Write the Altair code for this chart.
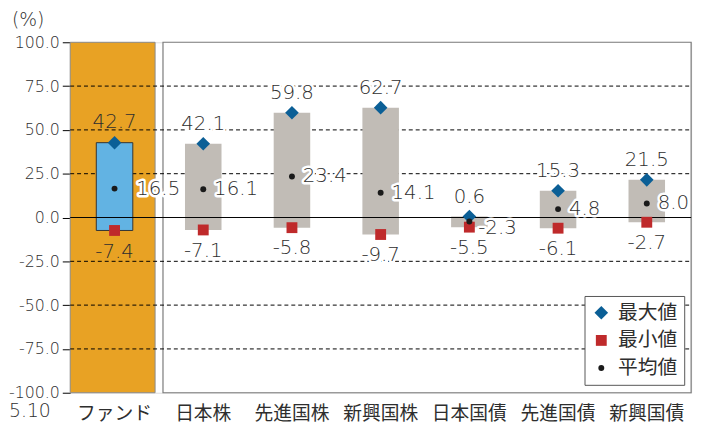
import altair as alt
import pandas as pd

cats = ["ファンド", "日本株", "先進国株", "新興国株", "日本国債", "先進国債", "新興国債"]
max_vals = [42.7, 42.1, 59.8, 62.7, 0.6, 15.3, 21.5]
min_vals = [-7.4, -7.1, -5.8, -9.7, -5.5, -6.1, -2.7]
avg_vals = [16.5, 16.1, 23.4, 14.1, -2.3, 4.8, 8.0]
legend_names = ["最大値", "最小値", "平均値"]
y_ticks = [100, 75, 50, 25, 0, -25, -50, -75, -100]
grid_vals = [75, 50, 25, -25, -50, -75]

CJK = "Noto Sans CJK JP"
NUM = "DejaVu Sans"
TXT = "#2e2e2e"
W, H = 629, 355

df = pd.DataFrame({"cat": cats, "max": max_vals, "min": min_vals, "avg": avg_vals})
base = alt.Chart(df)

yscale = alt.Scale(domain=[-100, 100], nice=False, zero=False)
xscale = alt.Scale(paddingInner=0, paddingOuter=0)
x_axis = alt.Axis(title=None, labelAngle=0, ticks=False, domain=False,
                  labelFont=CJK, labelFontSize=19, labelColor=TXT, labelPadding=12)
y_axis = alt.Axis(title=None, values=y_ticks, format=".1f", ticks=True, tickSize=8,
                  tickColor="black", domain=False, grid=False, labelFont=NUM,
                  labelFontWeight=200, labelExpr="replace(datum.label, '\u2212', '-')",
                  labelFontSize=16, labelColor=TXT, labelPadding=3)

X = alt.X("cat:N", sort=cats, scale=xscale, axis=x_axis)


def Y(field):
    return alt.Y(field, scale=yscale, axis=y_axis)


one = alt.Chart(pd.DataFrame({"a": [0]}))

fund_panel = one.mark_rect(color="#e8a224", stroke="#8a8a8a", strokeWidth=1).encode(
    x=alt.value(0), x2=alt.value(86), y=alt.value(0), y2=alt.value(H))
main_panel = one.mark_rect(color="white", stroke="#7a7a7a", strokeWidth=1.2).encode(
    x=alt.value(94), x2=alt.value(W), y=alt.value(0), y2=alt.value(H))

grid = alt.Chart(pd.DataFrame({"g": grid_vals})).mark_rule(
    color="black", strokeDash=[4, 3], strokeWidth=1).encode(
    y=Y("g:Q"), x=alt.value(0), x2=alt.value(W))

zero_line = alt.Chart(pd.DataFrame({"z": [0]})).mark_rule(color="black", strokeWidth=1).encode(
    y=Y("z:Q"), x=alt.value(0), x2=alt.value(W))

bars = base.mark_bar(size=37, color="#c1bcb6").encode(
    x=X, y=Y("max:Q"), y2="min:Q",
).transform_filter(alt.datum.cat != cats[0])

fund_bar = base.mark_bar(size=37, color="#62b3e3", stroke="#333333", strokeWidth=1).encode(
    x=X, y=Y("max:Q"), y2="min:Q"
).transform_filter(alt.datum.cat == cats[0])

leg = alt.Legend(title=None, orient="none", legendX=521, legendY=257, fillColor="white",
                 strokeColor="#555555", padding=7, rowPadding=8, labelFont=CJK,
                 labelFontSize=20, labelColor=TXT, labelOffset=7, symbolStrokeWidth=0)

points = base.transform_fold(["max", "min", "avg"], as_=["key", "value"]).transform_calculate(
    type=f"datum.key == 'max' ? '{legend_names[0]}' : datum.key == 'min' ? '{legend_names[1]}' : '{legend_names[2]}'"
).mark_point(filled=True, opacity=1, strokeWidth=0).encode(
    x=X,
    y=Y("value:Q"),
    color=alt.Color("type:N", scale=alt.Scale(domain=legend_names, range=["#0b5f96", "#bf2a2b", "#1a1a1a"]), legend=leg),
    shape=alt.Shape("type:N", scale=alt.Scale(domain=legend_names, range=["diamond", "square", "circle"]), legend=leg),
    size=alt.Size("type:N", scale=alt.Scale(type="ordinal", domain=legend_names, range=[190, 121, 36]), legend=leg),
)


def labels(field, flt, dx, dy, align, halo_on=True):
    layers = []
    for halo in ((True, False) if halo_on else (False,)):
        kw = dict(font=NUM, fontSize=20, fontWeight=200, align=align, baseline="middle", dx=dx, dy=dy)
        if halo:
            kw.update(stroke="white", strokeWidth=5, strokeJoin="round", color="white")
        else:
            kw.update(color=TXT)
        layers.append(base.transform_filter(flt).transform_calculate(
            lbl=f"replace(format(datum['{field}'], '.1f'), '\u2212', '-')"
        ).mark_text(**kw).encode(x=X, y=Y(f"{field}:Q"), text="lbl:N"))
    return layers


fund = alt.datum.cat == cats[0]
not_fund = alt.datum.cat != cats[0]
lbls = []
lbls += labels("max", fund, 0, -21, "center", halo_on=False)
lbls += labels("min", fund, 0, 22, "center", halo_on=False)
lbls += labels("max", not_fund, 0, -20, "center")
lbls += labels("min", not_fund, 0, 21, "center")
lbls += labels("avg", fund, 22, 0, "left")
lbls += labels("avg", not_fund & (alt.datum.cat != cats[4]), 11, 0, "left")
lbls += labels("avg", alt.datum.cat == cats[4], 9, 7, "left")

pct = one.mark_text(text="(%)", font=NUM, fontWeight=200, fontSize=19, color=TXT, align="left", baseline="middle").encode(
    x=alt.value(-59), y=alt.value(-22))
date = one.mark_text(text="5.10", font=NUM, fontWeight=200, fontSize=19, color=TXT, align="left", baseline="middle").encode(
    x=alt.value(-62), y=alt.value(H + 19))

chart = alt.layer(
    fund_panel, main_panel, grid, bars, fund_bar, zero_line, points, *lbls, pct, date
).properties(
    width=W, height=H, autosize="none",
    padding={"left": 63, "top": 32, "right": 10, "bottom": 33},
).configure_view(stroke=None).configure(background="white")

chart.save("out.html", embed_options={"renderer": "svg", "actions": False})
